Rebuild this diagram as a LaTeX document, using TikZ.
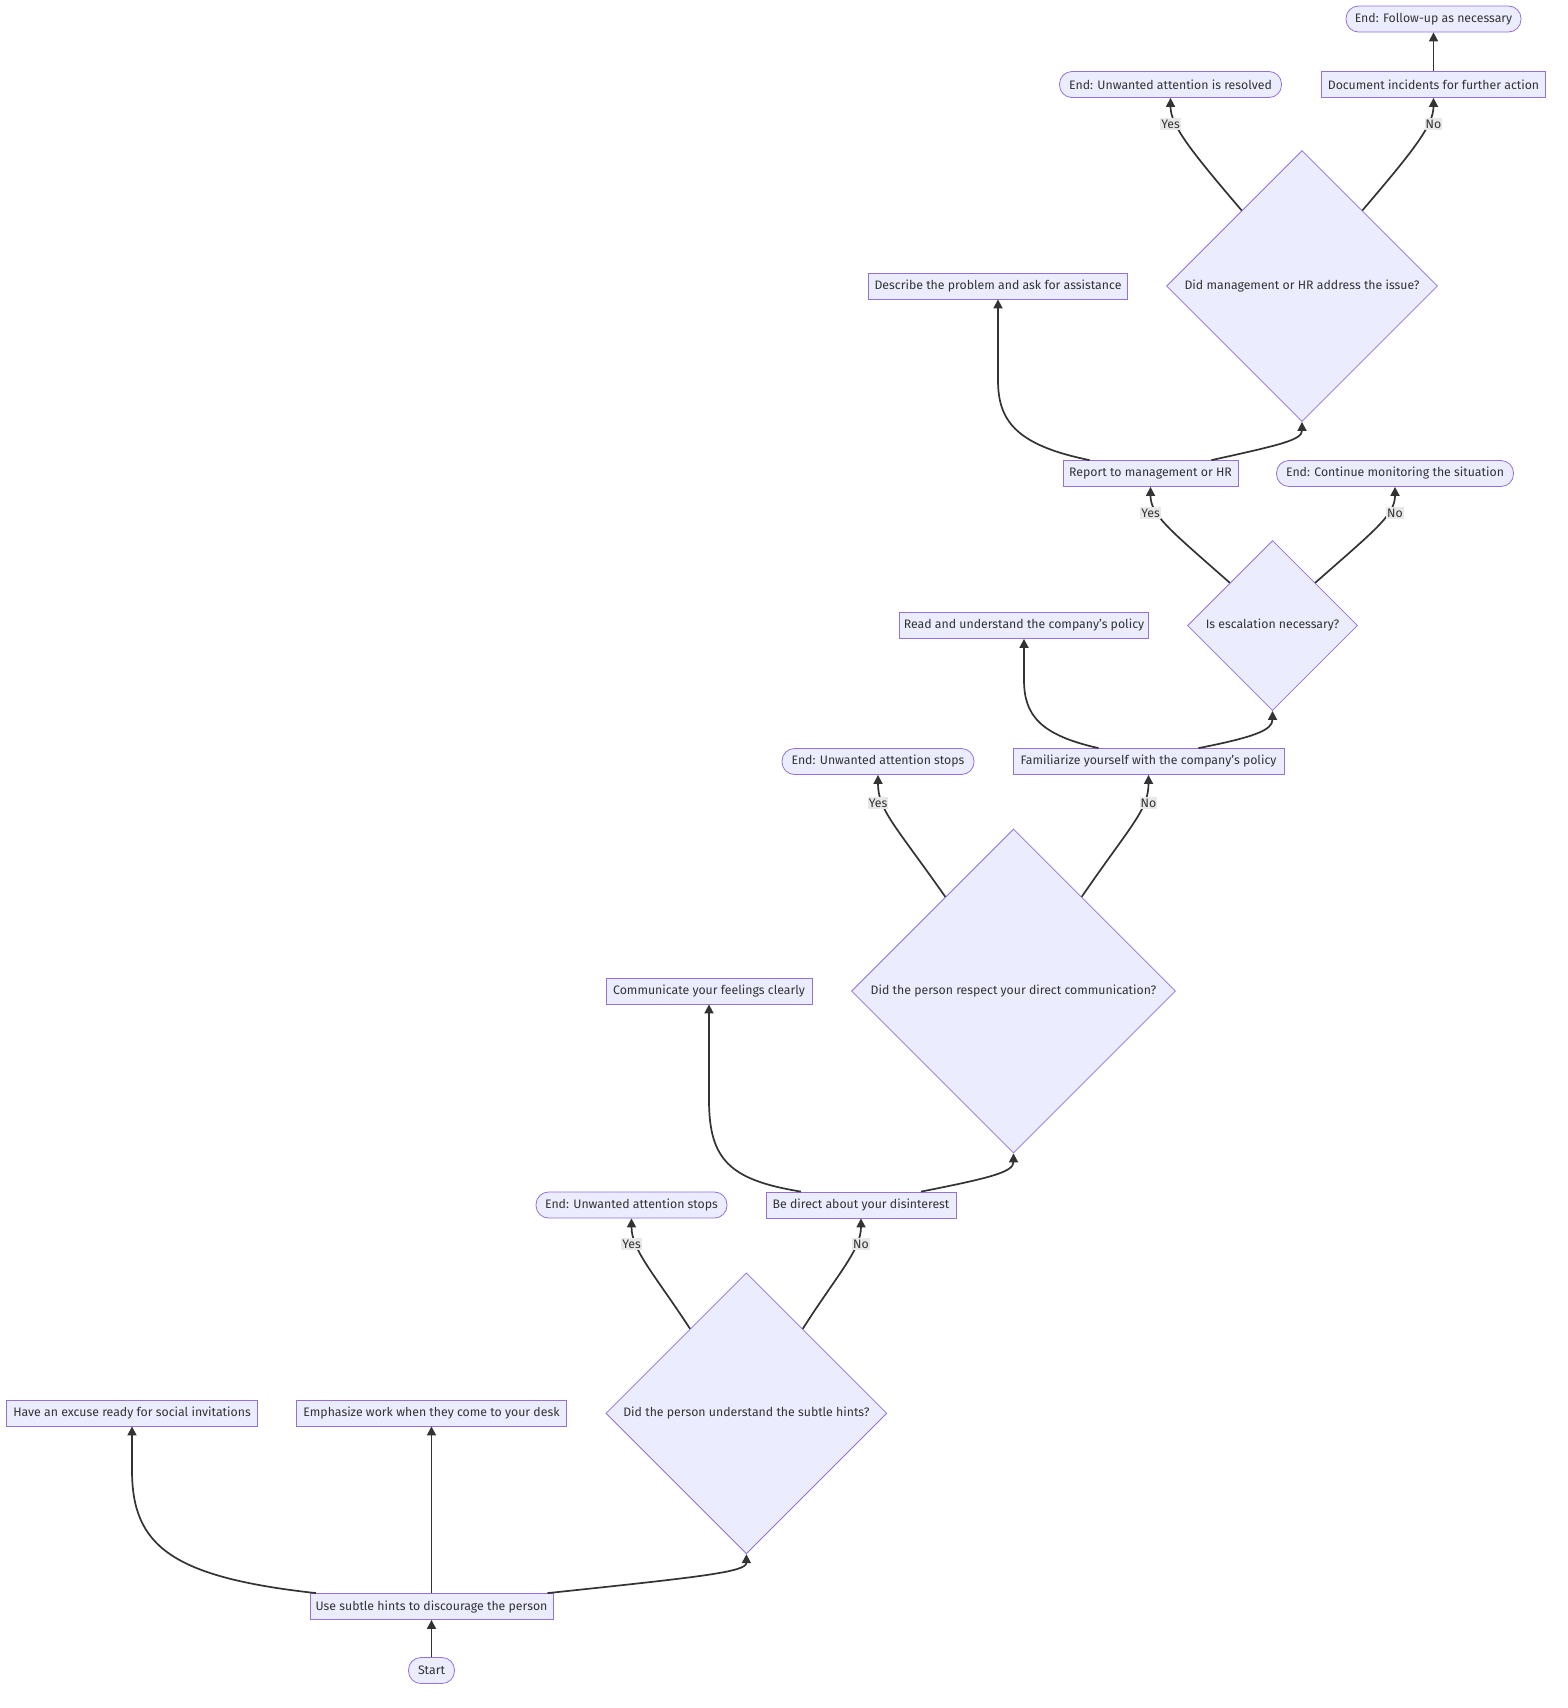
\documentclass[tikz,border=0pt]{standalone}
\usepackage{fontspec}
\setmainfont{Fira Sans}
\usetikzlibrary{shapes.geometric,arrows.meta,calc}
\definecolor{nodefill}{HTML}{ECECFF}
\definecolor{nodeline}{HTML}{9370DB}
\definecolor{edgecol}{HTML}{333333}
\definecolor{lblbg}{HTML}{E8E8E8}
\begin{document}
\begin{tikzpicture}[x=1pt,y=-1pt,
  txt/.style={text=edgecol, font=\fontsize{12.3}{14}\selectfont},
  base/.style={txt, draw=nodeline, fill=nodefill, line width=0.8pt, inner sep=0pt, minimum height=26pt},
  proc/.style={base, rectangle},
  term/.style={base, rectangle, rounded corners=12.5pt},
  dec/.style={base, diamond, aspect=1},
  flow/.style={draw=edgecol, line width=1.7pt, -{Triangle[length=9pt,width=9pt]}},
  lbl/.style={txt, fill=lblbg, inner xsep=1pt, inner ysep=1.5pt}
]
\useasboundingbox[fill=white] (0,0) rectangle (1568,1708);

% process steps, terminals and decisions
\node[term, minimum width=46pt]  (start)    at (431.5,1670.5) {Start};
\node[proc, minimum width=243pt] (hints)    at (431.5,1606.5) {Use subtle hints to discourage the person};
\node[proc, minimum width=251pt] (excuse)   at (132,1413)     {Have an excuse ready for social invitations};
\node[proc, minimum width=270pt] (emph)     at (431.5,1413)   {Emphasize work when they come to your desk};
\node[dec, minimum width=281pt, minimum height=281pt] (d1) at (746.4,1413.3) {Did the person understand the subtle hints?};
\node[term, minimum width=191pt] (end1)     at (631.5,1205)   {End: Unwanted attention stops};
\node[proc, minimum width=190pt] (direct)   at (861,1205)     {Be direct about your disinterest};
\node[proc, minimum width=206pt] (comm)     at (709,991)      {Communicate your feelings clearly};
\node[dec, minimum width=324pt, minimum height=324pt] (d2) at (1013.5,991) {Did the person respect your direct communication?};
\node[term, minimum width=192pt] (end2)     at (878,761.5)    {End: Unwanted attention stops};
\node[proc, minimum width=271pt] (famil)    at (1148.5,761.5) {Familiarize yourself with the company's policy};
\node[proc, minimum width=249pt] (read)     at (1024,625.5)   {Read and understand the company's policy};
\node[dec, minimum width=170pt, minimum height=170pt] (d3) at (1272.5,625.5) {Is escalation necessary?};
\node[proc, minimum width=175pt] (report)   at (1150.5,473.5) {Report to management or HR};
\node[term, minimum width=237pt] (cont)     at (1395,473.5)   {End: Continue monitoring the situation};
\node[proc, minimum width=259pt] (describe) at (998,286)      {Describe the problem and ask for assistance};
\node[dec, minimum width=271pt, minimum height=271pt] (d4) at (1302,286) {Did management or HR address the issue?};
\node[term, minimum width=222pt] (resolved) at (1170.5,84.5)  {End: Unwanted attention is resolved};
\node[proc, minimum width=224pt] (document) at (1433.5,84.5)  {Document incidents for further action};
\node[term, minimum width=175pt] (follow)   at (1433.5,19)    {End: Follow-up as necessary};

% connectors
\draw[flow] (start) -- (hints);
\draw[flow] (hints) -- (emph);
\draw[flow] ([xshift=-115.5pt]hints.north) .. controls (170,1577) and (132,1545) .. (132,1470) -- (excuse.south);
\draw[flow] ([xshift=116pt]hints.north) .. controls (700,1577) and (746.4,1572) .. (d1.south);

\draw[flow] ($(d1.west)!0.6!(d1.north)$) .. controls (655,1275) and (631.5,1250) .. (end1.south);
\draw[flow] ($(d1.east)!0.6!(d1.north)$) .. controls (837,1275) and (861,1250) .. (direct.south);

\draw[flow] ([xshift=-60pt]direct.north) .. controls (730,1180) and (709,1160) .. (709,1100) -- (comm.south);
\draw[flow] ([xshift=60pt]direct.north) .. controls (990,1178) and (1013.5,1172) .. (d2.south);

\draw[flow] ($(d2.west)!0.58!(d2.north)$) .. controls (895,825) and (878,810) .. (end2.south);
\draw[flow] ($(d2.east)!0.58!(d2.north)$) .. controls (1131,825) and (1148.5,810) .. (famil.south);

\draw[flow] ([xshift=-50pt]famil.north) .. controls (1040,735) and (1024,715) .. (1024,680) -- (read.south);
\draw[flow] ([xshift=50pt]famil.north) .. controls (1255,737) and (1272.5,730) .. (d3.south);

\draw[flow] ($(d3.west)!0.5!(d3.north)$) .. controls (1170,530) and (1150.5,515) .. (report.south);
\draw[flow] ($(d3.east)!0.5!(d3.north)$) .. controls (1375,530) and (1395,515) .. (cont.south);

\draw[flow] ([xshift=-61pt]report.north) .. controls (1015,445) and (998,420) .. (998,380) -- (describe.south);
\draw[flow] ([xshift=61pt]report.north) .. controls (1280,445) and (1302,440) .. (d4.south);

\draw[flow] ($(d4.west)!0.556!(d4.north)$) .. controls (1190,150) and (1170.5,125) .. (resolved.south);
\draw[flow] ($(d4.east)!0.556!(d4.north)$) .. controls (1414,150) and (1433.5,125) .. (document.south);
\draw[flow] (document) -- (follow);

% branch labels
\node[lbl] (y1) at (631.5,1244) {Yes};
\node[lbl] (n1) at (861,1244)   {No};
\node[lbl] (y2) at (878,803)    {Yes};
\node[lbl] (n2) at (1148.5,803) {No};
\node[lbl] (y3) at (1150.5,513) {Yes};
\node[lbl] (n3) at (1395,513)   {No};
\node[lbl] (y4) at (1170.5,124) {Yes};
\node[lbl] (n4) at (1433.5,124) {No};
\end{tikzpicture}
\end{document}
